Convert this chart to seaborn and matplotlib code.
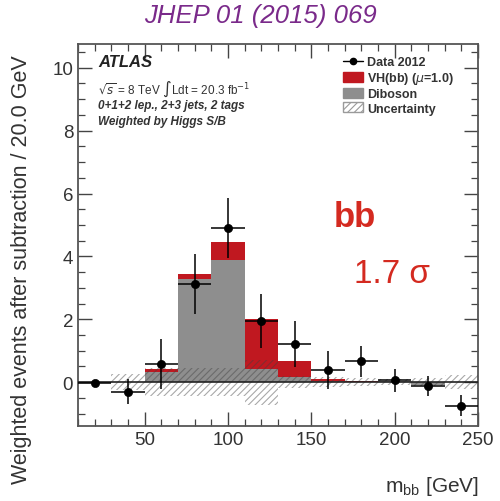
import numpy as np
import pandas as pd
import matplotlib
matplotlib.use("Agg")
import matplotlib.pyplot as plt
from matplotlib.ticker import MultipleLocator
from matplotlib.lines import Line2D
from matplotlib.patches import Patch
import seaborn as sns

# ---------------- data ----------------
bin_edges = [10, 30, 50, 70, 90, 110, 130, 150, 170, 190, 210, 230, 250]
bin_centers = [20, 40, 60, 80, 100, 120, 140, 160, 180, 200, 220, 240]
diboson = [0.0, 0.0, 0.33, 3.29, 3.90, 0.42, 0.15, 0.03, 0.02, 0.03, -0.08, 0.0]
vh_signal = [0.0, 0.0, 0.08, 0.14, 0.55, 1.60, 0.53, 0.07, 0.02, 0.01, 0.0, 0.0]
uncertainty = [0.0, 0.25, 0.45, 0.45, 0.45, 0.72, 0.2, 0.15, 0.12, 0.1, 0.12, 0.22]
data_x = [20, 40, 60, 80, 100, 120, 140, 160, 180, 200, 220, 240]
data_y = [-0.02, -0.3, 0.57, 3.13, 4.91, 1.95, 1.21, 0.39, 0.66, 0.06, -0.12, -0.75]
data_err = [0.0, 0.4, 0.8, 0.95, 0.95, 0.85, 0.74, 0.6, 0.5, 0.37, 0.33, 0.33]

sns.set_theme(style="ticks")
plt.rcParams['font.family'] = ['Liberation Sans', 'DejaVu Sans']
plt.rcParams['hatch.linewidth'] = 0.8

fig = plt.figure(figsize=(5.0, 5.02), dpi=100)
ax = fig.add_axes([0.156, 0.149, 0.80, 0.761])

df = pd.DataFrame({
    "mbb": bin_centers * 2,
    "w": diboson + vh_signal,
    "process": ["Diboson"] * len(bin_centers) + ["VH(bb)"] * len(bin_centers),
})
# seaborn stacks the first hue level on top
sns.histplot(data=df, x="mbb", weights="w", hue="process",
             hue_order=["VH(bb)", "Diboson"], multiple="stack",
             bins=bin_edges, palette={"Diboson": "#8e8e8e", "VH(bb)": "#c01820"},
             alpha=1.0, linewidth=0, legend=False, ax=ax, zorder=2)

# uncertainty band
unc = np.array(uncertainty)
ax.bar(bin_centers, 2 * unc, bottom=-unc, width=20, fill=False,
       hatch="/////", edgecolor=(0.25, 0.25, 0.25, 0.45), linewidth=0, zorder=3)

ax.axhline(0, color="#222222", lw=1.2, zorder=4)

# data
ax.errorbar(data_x, data_y, yerr=data_err, xerr=10, fmt="none",
            ecolor="black", elinewidth=1.1, capsize=0, zorder=5)
sns.scatterplot(x=data_x, y=data_y, color="black", s=35, edgecolor="black",
                zorder=6, ax=ax)

ax.set_xlim(10, 250)
ax.set_ylim(-1.4, 10.75)
ax.xaxis.set_major_locator(MultipleLocator(50))
ax.xaxis.set_minor_locator(MultipleLocator(10))
ax.yaxis.set_major_locator(MultipleLocator(2))
ax.yaxis.set_minor_locator(MultipleLocator(0.5))
ax.tick_params(which="both", direction="in", top=True, right=True,
               color="#444444", labelsize=13.5, labelcolor="#333333")
ax.tick_params(which="major", length=10, width=1.0)
ax.tick_params(which="minor", length=5, width=0.9)
for s in ax.spines.values():
    s.set_color("#555555")
    s.set_linewidth(1.3)

ax.set_xlabel("")
ax.set_ylabel("")
fig.text(0.044, 0.462, "Weighted events after subtraction / 20.0 GeV",
         rotation=90, ha="center", va="center", fontsize=15.5, color="#333333")
fig.text(0.958, 0.03, r"m$_{\mathregular{bb}}$ [GeV]", ha="right", va="center",
         fontsize=15, color="#333333")

# title
fig.text(0.52, 0.968, "JHEP 01 (2015) 069", ha="center", va="center",
         fontsize=18.5, style="italic", color="#7a2a8a")

# ATLAS labels
ax.text(0.05, 0.955, "ATLAS", transform=ax.transAxes, fontsize=12,
        weight="bold", style="italic", color="#222222", va="center")
ax.text(0.05, 0.885, r"$\sqrt{s}$ = 8 TeV $\int$Ldt = 20.3 fb$^{-1}$",
        transform=ax.transAxes, fontsize=8.5, color="#333333", va="center")
ax.text(0.05, 0.842, "0+1+2 lep., 2+3 jets, 2 tags", transform=ax.transAxes,
        fontsize=8.5, weight="bold", style="italic", color="#333333", va="center")
ax.text(0.05, 0.798, "Weighted by Higgs S/B", transform=ax.transAxes,
        fontsize=8.5, weight="bold", style="italic", color="#333333", va="center")

# legend (manual handles)
handles = [
    Line2D([0], [0], marker="o", color="black", markersize=4.5, lw=1),
    Patch(facecolor="#c01820", edgecolor="#c01820"),
    Patch(facecolor="#8e8e8e", edgecolor="#8e8e8e"),
    Patch(facecolor="white", edgecolor="#9a9a9a", hatch="/////"),
]
labels = ["Data 2012", r"VH(bb) ($\mu$=1.0)", "Diboson", "Uncertainty"]
leg = ax.legend(handles, labels, loc="upper left", bbox_to_anchor=(0.65, 0.982),
                frameon=False, fontsize=9, handlelength=1.6, handleheight=0.85,
                labelspacing=0.15, handletextpad=0.3, borderaxespad=0)
for t in leg.get_texts():
    t.set_weight("bold")
    t.set_color("#333333")

# annotations
ax.text(0.64, 0.55, "bb", transform=ax.transAxes, fontsize=25, weight="bold",
        color="#d42a20", va="center")
ax.text(0.69, 0.40, "1.7 σ", transform=ax.transAxes, fontsize=24,
        color="#d42a20", va="center")

fig.savefig("out.png", dpi=100)
